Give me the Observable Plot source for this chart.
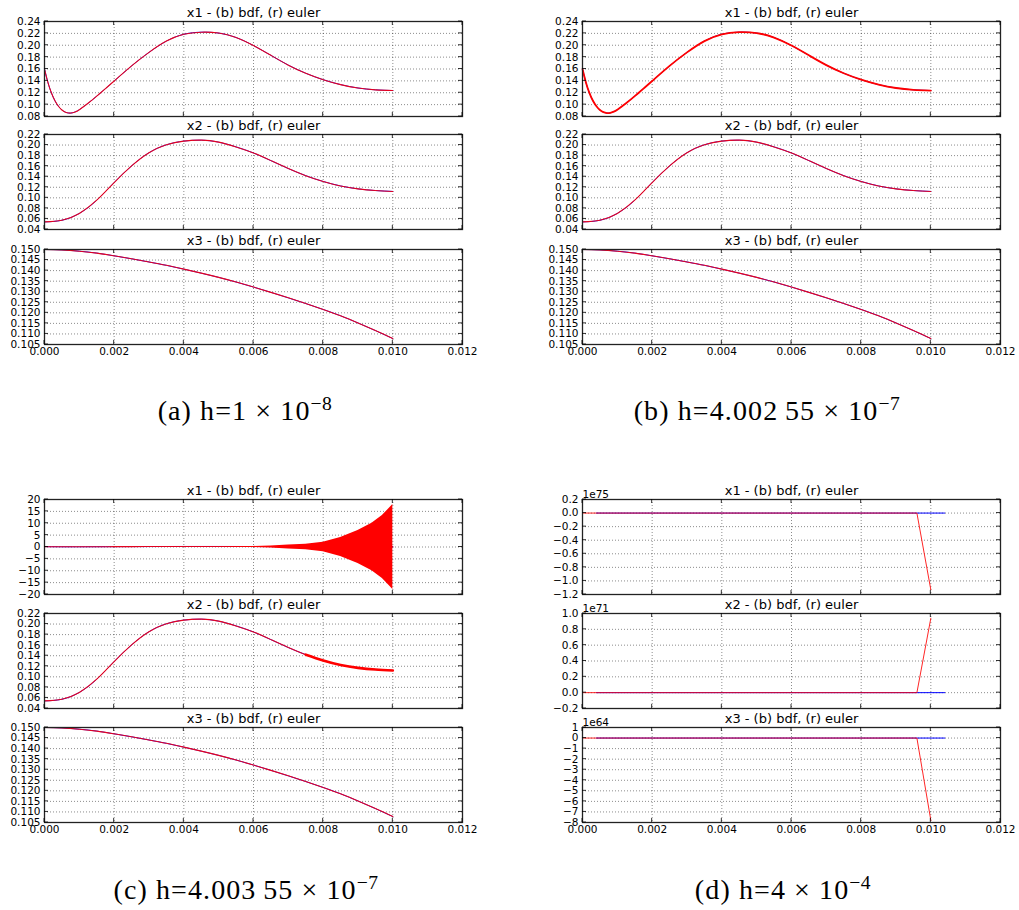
<!DOCTYPE html>
<html><head><meta charset="utf-8">
<script src="https://cdn.jsdelivr.net/npm/d3@7"></script>
<script src="https://cdn.jsdelivr.net/npm/@observablehq/plot@0.6"></script>
<style>
body{margin:0;background:#fff;}
#root{position:relative;width:1019px;height:910px;overflow:hidden;background:#fff;}
.cap{position:absolute;font-family:"Liberation Serif",serif;font-size:28px;letter-spacing:1.1px;line-height:28px;white-space:nowrap;transform:translateX(-50%);color:#000;}
.cap sup{font-size:0.7em;vertical-align:0.5em;line-height:0;letter-spacing:0.5px;}
</style></head><body><div id="root"></div>
<script>
// ---- data ----
// x1 (dense sampling near the initial dip)
const tX1 = [0, 0.0001, 0.0002, 0.0003, 0.0004, 0.0005, 0.0006, 0.0007, 0.0008, 0.0009, 0.001, 0.00125, 0.0015, 0.00175, 0.002, 0.0025, 0.003, 0.0035, 0.004, 0.0045, 0.005, 0.0055, 0.006, 0.0065, 0.007, 0.0075, 0.008, 0.0085, 0.009, 0.0095, 0.010];
const x1Vals = [0.1600, 0.1370, 0.1195, 0.1065, 0.0972, 0.0910, 0.0873, 0.0858, 0.0862, 0.0882, 0.0915, 0.1023, 0.1143, 0.1270, 0.1398, 0.1652, 0.1880, 0.2070, 0.2185, 0.2220, 0.2205, 0.2130, 0.1995, 0.1830, 0.1665, 0.1528, 0.1420, 0.1337, 0.1280, 0.1249, 0.1237];
// x2, x3
const tX23 = [0, 0.0005, 0.001, 0.0015, 0.002, 0.0025, 0.003, 0.0035, 0.004, 0.0045, 0.005, 0.0055, 0.006, 0.0065, 0.007, 0.0075, 0.008, 0.0085, 0.009, 0.0095, 0.010];
const x2Vals = [0.0544, 0.0575, 0.0705, 0.0955, 0.1290, 0.1605, 0.1855, 0.2005, 0.2075, 0.2093, 0.2055, 0.1965, 0.1850, 0.1705, 0.1555, 0.1420, 0.1310, 0.1225, 0.1170, 0.1138, 0.1121];
const x3Vals = [0.1500, 0.1498, 0.1492, 0.1483, 0.1470, 0.1456, 0.1441, 0.1425, 0.1407, 0.1388, 0.1368, 0.1346, 0.1322, 0.1297, 0.1271, 0.1244, 0.1216, 0.1186, 0.1152, 0.1116, 0.1078];

// panel (c): euler x1 oscillation envelope (amplitude)
const envT = [0.005, 0.0055, 0.006, 0.0065, 0.007, 0.0075, 0.008, 0.0085, 0.009, 0.0094, 0.0097, 0.0099, 0.010];
const envAmp = [0.05, 0.12, 0.25, 0.45, 0.8, 1.2, 2.0, 4.0, 6.9, 10.0, 13.3, 16.3, 17.9];

// panel (d): values in units of the axis multiplier
const dEulerT = [0, 0.0096, 0.0100];
const dEulerX1 = [0, 0, -1.13];
const dEulerX2 = [0, 0, 0.94];
const dEulerX3 = [0, 0, -7.8];
const dBdfT = [0.0004, 0.0104];
const dBdfX1 = [0, 0];
const dBdfX2 = [0, 0];
const dBdfX3 = [0, 0];
const dMultipliers = ["1e75", "1e71", "1e64"];

// ticks
const xTicks = [0, 0.002, 0.004, 0.006, 0.008, 0.010, 0.012];
const yTicksX1 = [0.08, 0.10, 0.12, 0.14, 0.16, 0.18, 0.20, 0.22, 0.24];
const yTicksX2 = [0.04, 0.06, 0.08, 0.10, 0.12, 0.14, 0.16, 0.18, 0.20, 0.22];
const yTicksX3 = [0.105, 0.110, 0.115, 0.120, 0.125, 0.130, 0.135, 0.140, 0.145, 0.150];
const yTicksC1 = [-20, -15, -10, -5, 0, 5, 10, 15, 20];
const yTicksD1 = [-1.2, -1.0, -0.8, -0.6, -0.4, -0.2, 0.0, 0.2];
const yTicksD2 = [-0.2, 0.0, 0.2, 0.4, 0.6, 0.8, 1.0];
const yTicksD3 = [-8, -7, -6, -5, -4, -3, -2, -1, 0, 1];

const titles = ["x1 - (b) bdf, (r) euler", "x2 - (b) bdf, (r) euler", "x3 - (b) bdf, (r) euler"];
const captions = [
  "(a) h=1 × 10<sup>−8</sup>",
  "(b) h=4.002&thinsp;55 × 10<sup>−7</sup>",
  "(c) h=4.003&thinsp;55 × 10<sup>−7</sup>",
  "(d) h=4 × 10<sup>−4</sup>"
];

// ---- drawing ----
const root = document.getElementById("root");
const FONT = "DejaVu Sans";
const BLUE = "#0000ff", RED = "#ff0000";

const rowsOf = (ts, vs) => ts.map((t, i) => ({t, v: vs[i]}));

function tickMarks(yTicks) {
  return (index, scales, values, dims) => {
    const {width, height, marginLeft: l, marginRight: r, marginTop: t, marginBottom: b} = dims;
    const g = d3.create("svg:g").attr("stroke", "#000").attr("stroke-width", 0.8);
    for (const v of xTicks) {
      const px = scales.x(v);
      g.append("line").attr("x1", px).attr("x2", px).attr("y1", height - b).attr("y2", height - b - 4);
      g.append("line").attr("x1", px).attr("x2", px).attr("y1", t).attr("y2", t + 4);
    }
    for (const v of yTicks) {
      const py = scales.y(v);
      g.append("line").attr("x1", l).attr("x2", l + 4).attr("y1", py).attr("y2", py);
      g.append("line").attr("x1", width - r).attr("x2", width - r - 4).attr("y1", py).attr("y2", py);
    }
    return g.node();
  };
}

function sub({left, top, yDomain, yTicks, yFmt, bottom, title, marks, mult}) {
  const W = 418, H = 95, ml = 50, mr = 24, mt = 26, mb = bottom ? 26 : 4;
  const fig = Plot.plot({
    width: W + ml + mr, height: H + mt + mb,
    marginLeft: ml, marginRight: mr, marginTop: mt, marginBottom: mb,
    style: {fontFamily: FONT, fontSize: "10.5px", color: "#000", background: "transparent", overflow: "visible"},
    x: {domain: [0, 0.012], ticks: xTicks, tickFormat: d3.format(".3f"), tickSize: 0, tickPadding: 3, axis: bottom ? "bottom" : null, label: null},
    y: {domain: yDomain, ticks: yTicks, tickFormat: yFmt, tickSize: 0, tickPadding: 4, label: null},
    marks: [
      Plot.gridX(xTicks, {stroke: "#000", strokeOpacity: 0.65, strokeDasharray: "1,2", strokeWidth: 0.7}),
      Plot.gridY(yTicks, {stroke: "#000", strokeOpacity: 0.65, strokeDasharray: "1,2", strokeWidth: 0.7}),
      ...marks,
      Plot.frame({stroke: "#222", strokeWidth: 1.3}),
      tickMarks(yTicks),
      Plot.text([title], {frameAnchor: "top", lineAnchor: "bottom", dy: -5, fontSize: 13, text: d => d}),
      mult ? Plot.text([mult], {frameAnchor: "top-left", textAnchor: "start", lineAnchor: "bottom", dy: -2, fontSize: 10.5, text: d => d}) : null
    ]
  });
  fig.style.position = "absolute";
  fig.style.left = (left - ml) + "px";
  fig.style.top = (top - mt) + "px";
  root.appendChild(fig);
}

const f2 = d3.format(".2f"), f3 = d3.format(".3f"), f1 = d3.format(".1f"), f0 = d3.format("d");
const smooth = "natural";

function pair(ts, vals, redWidth = 1.1, redOpacity = 0.88) {
  const data = rowsOf(ts, vals);
  return [
    Plot.line(data, {x: "t", y: "v", stroke: BLUE, strokeWidth: 1, curve: smooth}),
    Plot.line(data, {x: "t", y: "v", stroke: RED, strokeWidth: redWidth, strokeOpacity: redOpacity, curve: smooth})
  ];
}

// (a)
sub({left: 44, top: 21, yDomain: [0.08, 0.24], yTicks: yTicksX1, yFmt: f2, title: titles[0], marks: pair(tX1, x1Vals)});
sub({left: 44, top: 134, yDomain: [0.04, 0.22], yTicks: yTicksX2, yFmt: f2, title: titles[1], marks: pair(tX23, x2Vals)});
sub({left: 44, top: 249, yDomain: [0.105, 0.150], yTicks: yTicksX3, yFmt: f3, title: titles[2], bottom: true, marks: pair(tX23, x3Vals)});
// (b)
sub({left: 582, top: 21, yDomain: [0.08, 0.24], yTicks: yTicksX1, yFmt: f2, title: titles[0], marks: pair(tX1, x1Vals, 1.8, 1)});
sub({left: 582, top: 134, yDomain: [0.04, 0.22], yTicks: yTicksX2, yFmt: f2, title: titles[1], marks: pair(tX23, x2Vals)});
sub({left: 582, top: 249, yDomain: [0.105, 0.150], yTicks: yTicksX3, yFmt: f3, title: titles[2], bottom: true, marks: pair(tX23, x3Vals)});
// (c)
sub({left: 44, top: 499, yDomain: [-20, 20], yTicks: yTicksC1, yFmt: f0, title: titles[0], marks: [
  ...pair(tX1, x1Vals),
  Plot.areaY(rowsOf(envT, envAmp), {x: "t", y1: d => -d.v, y2: "v", fill: RED})
]});
sub({left: 44, top: 613, yDomain: [0.04, 0.22], yTicks: yTicksX2, yFmt: f2, title: titles[1], marks: [
  ...pair(tX23, x2Vals),
  Plot.line(rowsOf(tX23, x2Vals).filter(d => d.t >= 0.0075), {x: "t", y: "v", stroke: RED, strokeWidth: 2.6, curve: smooth})
]});
sub({left: 44, top: 727, yDomain: [0.105, 0.150], yTicks: yTicksX3, yFmt: f3, title: titles[2], bottom: true, marks: pair(tX23, x3Vals)});
// (d)
const dPair = (bv, ev) => [
  Plot.line(rowsOf(dBdfT, bv), {x: "t", y: "v", stroke: BLUE, strokeWidth: 1}),
  Plot.line(rowsOf(dEulerT, ev), {x: "t", y: "v", stroke: RED, strokeWidth: 1, strokeOpacity: 0.85})
];
sub({left: 582, top: 499, yDomain: [-1.2, 0.2], yTicks: yTicksD1, yFmt: f1, title: titles[0], mult: dMultipliers[0], marks: dPair(dBdfX1, dEulerX1)});
sub({left: 582, top: 613, yDomain: [-0.2, 1.0], yTicks: yTicksD2, yFmt: f1, title: titles[1], mult: dMultipliers[1], marks: dPair(dBdfX2, dEulerX2)});
sub({left: 582, top: 727, yDomain: [-8, 1], yTicks: yTicksD3, yFmt: f0, title: titles[2], bottom: true, mult: dMultipliers[2], marks: dPair(dBdfX3, dEulerX3)});

// captions
const capPos = [[245, 420], [767, 420], [246, 899], [783, 899]];
captions.forEach((html, i) => {
  const d = document.createElement("div");
  d.className = "cap";
  d.innerHTML = html;
  d.style.left = capPos[i][0] + "px";
  d.style.top = (capPos[i][1] - 23) + "px";
  root.appendChild(d);
});
</script>
</body></html>
